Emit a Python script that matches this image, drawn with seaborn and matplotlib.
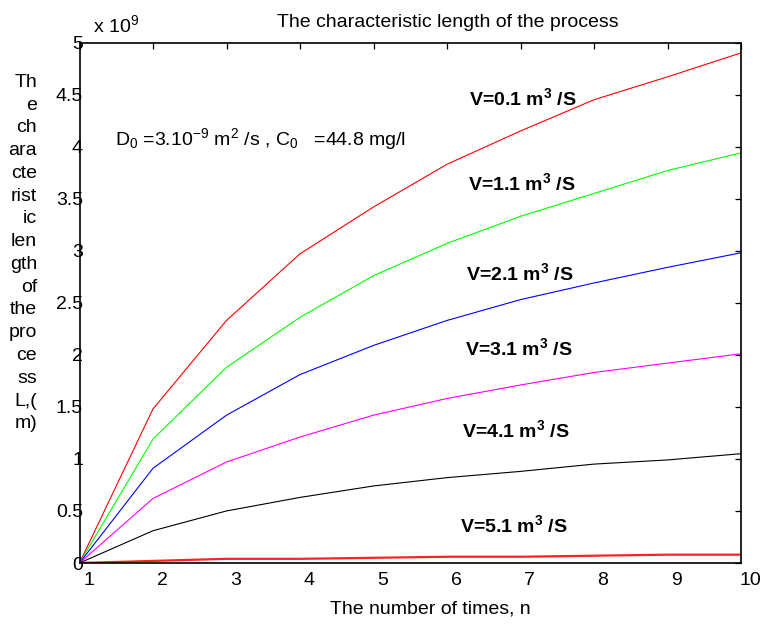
import numpy as np
import pandas as pd
import matplotlib
matplotlib.use("Agg")
import matplotlib.pyplot as plt
import seaborn as sns
from matplotlib.transforms import ScaledTranslation

# ---------------- data (L in units of 10^9 m) ----------------
n_times = [1, 2, 3, 4, 5, 6, 7, 8, 9, 10]
L_v01 = [0, 1.48, 2.33, 2.97, 3.42, 3.83, 4.15, 4.45, 4.67, 4.90]
L_v11 = [0, 1.19, 1.88, 2.36, 2.76, 3.07, 3.33, 3.55, 3.77, 3.94]
L_v21 = [0, 0.91, 1.42, 1.81, 2.09, 2.33, 2.53, 2.69, 2.84, 2.98]
L_v31 = [0, 0.62, 0.97, 1.21, 1.42, 1.58, 1.71, 1.83, 1.92, 2.01]
L_v41 = [0, 0.31, 0.50, 0.63, 0.74, 0.82, 0.88, 0.95, 0.99, 1.05]
L_v51 = [0, 0.02, 0.04, 0.04, 0.05, 0.06, 0.06, 0.07, 0.08, 0.08]

series_names = ["V=0.1", "V=1.1", "V=2.1", "V=3.1", "V=4.1", "V=5.1"]
series_values = [L_v01, L_v11, L_v21, L_v31, L_v41, L_v51]
series_colors = ["#ff0000", "#00ff00", "#0000ff", "#ff00ff", "#000000", "#ff2020"]
series_widths = [0.8, 0.8, 0.8, 0.8, 0.8, 1.6]

# label anchor (n, L) for the in-plot curve labels
label_x = [6.30, 6.29, 6.26, 6.24, 6.21, 6.18]
label_y = [4.40, 3.58, 2.72, 2.00, 1.21, 0.30]

y_ticks = [0, 0.5, 1, 1.5, 2, 2.5, 3, 3.5, 4, 4.5, 5]
ylabel_chunks = ["Th", "e", "ch", "ara", "cte", "rist", "ic", "len", "gth",
                 "of", "the", "pro", "ce", "ss", "L,(", "m)"]

title_text = "The characteristic length of the process"
xlabel_text = "The number of times, n"
note_text = r"D$_0$ =3.10$^{-9}$ m$^2$ /s , C$_0$   =44.8 mg/l"

# ---------------- style ----------------
sns.set_style("white")
plt.rcParams["font.family"] = ["Liberation Sans", "DejaVu Sans"]
plt.rcParams["mathtext.fontset"] = "custom"
plt.rcParams["mathtext.rm"] = "Liberation Sans"
plt.rcParams["mathtext.it"] = "Liberation Sans:italic"
plt.rcParams["mathtext.bf"] = "Liberation Sans:bold"

W, H = 764, 624
fig = plt.figure(figsize=(W / 100, H / 100), dpi=100)
fig.patch.set_facecolor("white")
ax_l, ax_r, ax_t, ax_b = 79.5, 741, 42.5, 563
ax = fig.add_axes([ax_l / W, 1 - ax_b / H, (ax_r - ax_l) / W, (ax_b - ax_t) / H])

rows = []
for name, vals in zip(series_names, series_values):
    for n, v in zip(n_times, vals):
        rows.append({"n": n, "L": v, "series": name})
df = pd.DataFrame(rows)

for name, c, lw in zip(series_names, series_colors, series_widths):
    sub = df[df["series"] == name]
    sns.lineplot(data=sub, x="n", y="L", color=c, linewidth=lw, ax=ax,
                 legend=False, estimator=None, sort=False)

ax.set_xlim(1, 10)
ax.set_ylim(0, 5)
ax.set_xticks(n_times)
ax.set_xticklabels([str(n) for n in n_times])
ax.set_yticks(y_ticks)
ax.set_yticklabels(["%g" % t for t in y_ticks])
ax.set_xlabel("")
ax.set_ylabel("")

for s in ax.spines.values():
    s.set_visible(True)
    s.set_color("black")
    s.set_linewidth(1.2)

ax.tick_params(axis="both", direction="in", top=True, right=True,
               length=4.5, width=0.9, color="black", labelsize=14,
               labelcolor="black")
ax.tick_params(axis="x", pad=6.5)
ax.tick_params(axis="y", pad=-2.5)

off = ScaledTranslation(9 / 100, 0, fig.dpi_scale_trans)
for lbl in ax.get_xticklabels():
    lbl.set_transform(lbl.get_transform() + off)

# curve labels
for name, lx, ly in zip(series_names, label_x, label_y):
    ax.text(lx, ly, name + r" m$^{\mathbf{3}}$ /S", fontsize=14,
            fontweight="bold", ha="left", va="baseline", color="black")

# parameter note
ax.text(1.48, 4.01, note_text, fontsize=14, ha="left", va="baseline",
        color="black")

# title, xlabel, exponent (figure-pixel placement)
fig.text(277 / W, 1 - 27 / H, title_text, fontsize=14, ha="left",
         va="baseline", color="black")
fig.text(330 / W, 1 - 613 / H, xlabel_text, fontsize=14, ha="left",
         va="baseline", color="black")
fig.text(93 / W, 1 - 32 / H, r"x 10$^9$", fontsize=14, ha="left",
         va="baseline", color="black")

# stacked y label
for i, chunk in enumerate(ylabel_chunks):
    fig.text(37 / W, 1 - (87 + 22.75 * i) / H, chunk, fontsize=14,
             ha="right", va="baseline", color="black")

fig.savefig("out.png", dpi=100, facecolor="white")
